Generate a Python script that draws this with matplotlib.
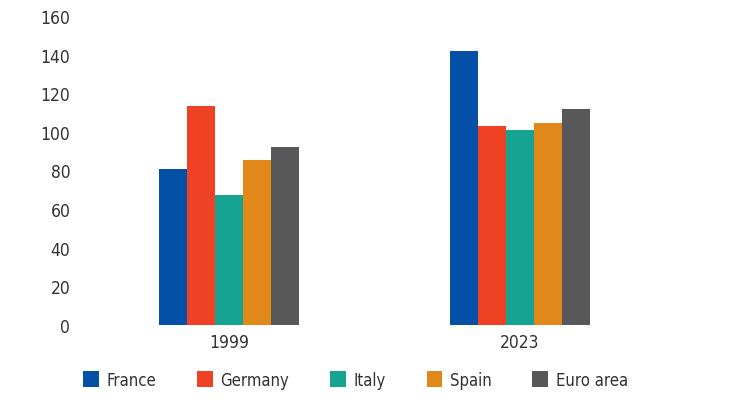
import numpy as np
import matplotlib
matplotlib.use('Agg')
import matplotlib.pyplot as plt
from matplotlib import font_manager

# pick a narrow face if one is around, otherwise Roboto
names = set(f.name for f in font_manager.fontManager.ttflist)
stretch = 'normal'
if 'Liberation Sans Narrow' in names:
    fam = 'Liberation Sans Narrow'
elif any(f.name == 'DejaVu Sans' and f.stretch == 'condensed' for f in font_manager.fontManager.ttflist):
    fam = 'DejaVu Sans'
    stretch = 'condensed'
else:
    fam = 'Roboto'
plt.rcParams['font.family'] = [fam, 'DejaVu Sans']
plt.rcParams['font.stretch'] = stretch

years = ['1999', '2023']
countries = ['France', 'Germany', 'Italy', 'Spain', 'Euro area']
colors = ['#0450A6', '#EF4123', '#17A391', '#E0881A', '#58585A']

france = [80.6, 141.8]
germany = [113.6, 103.3]
italy = [67.4, 101.1]
spain = [85.3, 104.7]
euro_area = [92.4, 111.6]
series = [france, germany, italy, spain, euro_area]

fig = plt.figure(figsize=(7.3, 4.1), dpi=100)
ax = fig.add_axes([80 / 730, 84 / 410, 590 / 730, 309 / 410])

x = np.arange(len(years))
w = 28 / 291
for k, (vals, name, c) in enumerate(zip(series, countries, colors)):
    ax.bar(x + (k - 2) * w, vals, width=w, color=c, label=name)

ax.set_xlim(-0.512, 1.515)
ax.set_ylim(0, 160)
ax.set_yticks(range(0, 161, 20))
ax.set_xticks(x)
ax.set_xticklabels(years)
for s in ax.spines.values():
    s.set_visible(False)
ax.tick_params(length=0, labelsize=12.5, colors='#333333')
ax.tick_params(axis='y', pad=7)
ax.tick_params(axis='x', pad=6)

fig.legend(loc='center left', bbox_to_anchor=(83 / 730, 29 / 410), ncol=5,
           frameon=False, fontsize=12, handlelength=0.95, handleheight=1.1,
           columnspacing=2.45, handletextpad=0.45, borderpad=0,
           borderaxespad=0, labelcolor='#333333')

fig.savefig('out.png', dpi=100)
